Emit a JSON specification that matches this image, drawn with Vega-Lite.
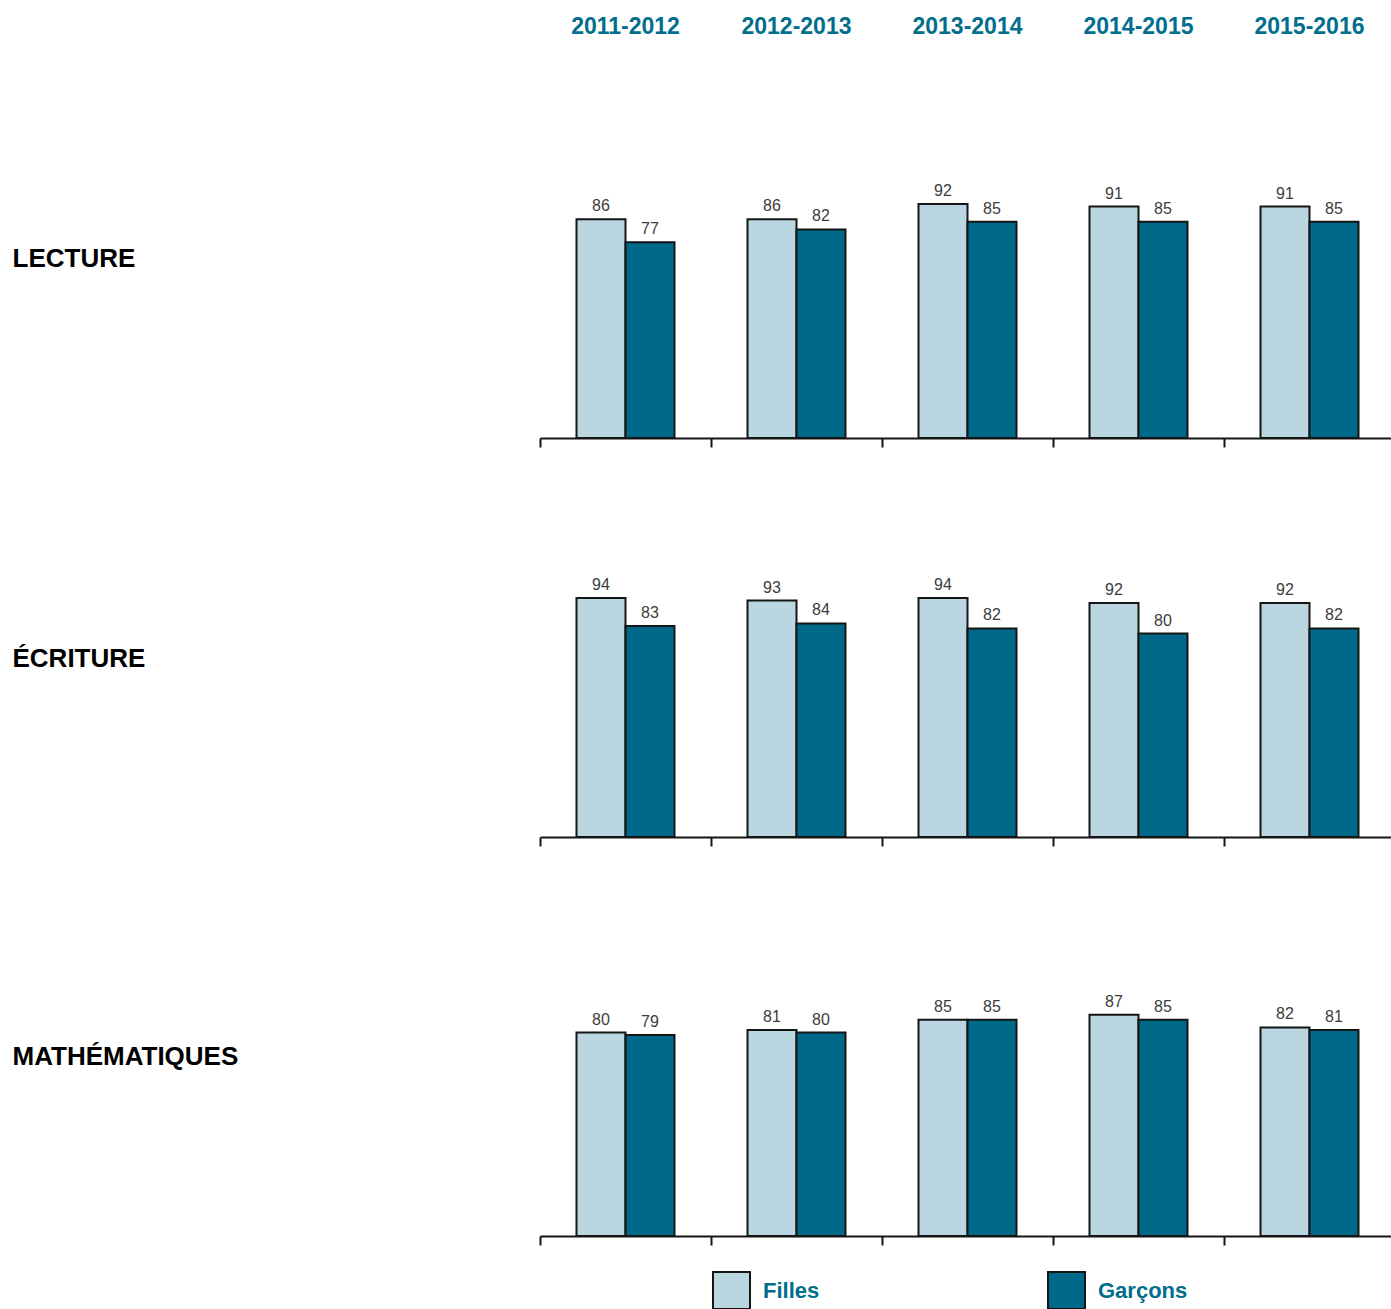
{
  "$schema": "https://vega.github.io/schema/vega-lite/v6.json",
  "padding": {"left": 12, "top": 15, "right": 0, "bottom": 0},
  "datasets": {
    "scores": [
      {"matiere": "LECTURE", "annee": "2011-2012", "sexe": "Filles", "valeur": 86},
      {"matiere": "LECTURE", "annee": "2011-2012", "sexe": "Garçons", "valeur": 77},
      {"matiere": "LECTURE", "annee": "2012-2013", "sexe": "Filles", "valeur": 86},
      {"matiere": "LECTURE", "annee": "2012-2013", "sexe": "Garçons", "valeur": 82},
      {"matiere": "LECTURE", "annee": "2013-2014", "sexe": "Filles", "valeur": 92},
      {"matiere": "LECTURE", "annee": "2013-2014", "sexe": "Garçons", "valeur": 85},
      {"matiere": "LECTURE", "annee": "2014-2015", "sexe": "Filles", "valeur": 91},
      {"matiere": "LECTURE", "annee": "2014-2015", "sexe": "Garçons", "valeur": 85},
      {"matiere": "LECTURE", "annee": "2015-2016", "sexe": "Filles", "valeur": 91},
      {"matiere": "LECTURE", "annee": "2015-2016", "sexe": "Garçons", "valeur": 85},
      {"matiere": "ÉCRITURE", "annee": "2011-2012", "sexe": "Filles", "valeur": 94},
      {"matiere": "ÉCRITURE", "annee": "2011-2012", "sexe": "Garçons", "valeur": 83},
      {"matiere": "ÉCRITURE", "annee": "2012-2013", "sexe": "Filles", "valeur": 93},
      {"matiere": "ÉCRITURE", "annee": "2012-2013", "sexe": "Garçons", "valeur": 84},
      {"matiere": "ÉCRITURE", "annee": "2013-2014", "sexe": "Filles", "valeur": 94},
      {"matiere": "ÉCRITURE", "annee": "2013-2014", "sexe": "Garçons", "valeur": 82},
      {"matiere": "ÉCRITURE", "annee": "2014-2015", "sexe": "Filles", "valeur": 92},
      {"matiere": "ÉCRITURE", "annee": "2014-2015", "sexe": "Garçons", "valeur": 80},
      {"matiere": "ÉCRITURE", "annee": "2015-2016", "sexe": "Filles", "valeur": 92},
      {"matiere": "ÉCRITURE", "annee": "2015-2016", "sexe": "Garçons", "valeur": 82},
      {"matiere": "MATHÉMATIQUES", "annee": "2011-2012", "sexe": "Filles", "valeur": 80},
      {"matiere": "MATHÉMATIQUES", "annee": "2011-2012", "sexe": "Garçons", "valeur": 79},
      {"matiere": "MATHÉMATIQUES", "annee": "2012-2013", "sexe": "Filles", "valeur": 81},
      {"matiere": "MATHÉMATIQUES", "annee": "2012-2013", "sexe": "Garçons", "valeur": 80},
      {"matiere": "MATHÉMATIQUES", "annee": "2013-2014", "sexe": "Filles", "valeur": 85},
      {"matiere": "MATHÉMATIQUES", "annee": "2013-2014", "sexe": "Garçons", "valeur": 85},
      {"matiere": "MATHÉMATIQUES", "annee": "2014-2015", "sexe": "Filles", "valeur": 87},
      {"matiere": "MATHÉMATIQUES", "annee": "2014-2015", "sexe": "Garçons", "valeur": 85},
      {"matiere": "MATHÉMATIQUES", "annee": "2015-2016", "sexe": "Filles", "valeur": 82},
      {"matiere": "MATHÉMATIQUES", "annee": "2015-2016", "sexe": "Garçons", "valeur": 81}
    ]
  },
  "bounds": "flush",
  "spacing": 132,
  "vconcat": [
    {
      "width": 855,
      "height": 24,
      "data": {"name": "scores"},
      "transform": [{"aggregate": [{"op": "count", "as": "n"}], "groupby": ["annee"]}],
      "mark": {"type": "text", "font": "Liberation Sans", "fontSize": 23, "fontWeight": "bold", "color": "#006e8c", "baseline": "middle"},
      "encoding": {
        "x": {"field": "annee", "type": "nominal", "axis": null, "scale": {"paddingInner": 0, "paddingOuter": 0}},
        "text": {"field": "annee", "type": "nominal"}
      }
    },
    {
      "width": 855,
      "height": 267,
      "data": {"name": "scores"},
      "transform": [{"filter": "datum.matiere === 'LECTURE'"}],
      "encoding": {
        "x": {"field": "annee", "type": "nominal", "scale": {"paddingInner": 0, "paddingOuter": 0}},
        "xOffset": {"field": "sexe", "type": "nominal", "scale": {"domain": ["Filles", "Garçons"], "paddingInner": 0, "paddingOuter": 0.745}},
        "y": {"field": "valeur", "type": "quantitative", "scale": {"domain": [0, 105], "nice": false}, "axis": {"title": "LECTURE", "titleY": 87}}
      },
      "layer": [
        {
          "mark": {"type": "bar", "stroke": "#151515", "strokeWidth": 2},
          "encoding": {"color": {"field": "sexe", "type": "nominal", "scale": {"domain": ["Filles", "Garçons"], "range": ["#b9d6e1", "#00698a"]}, "legend": {"title": null}}}
        },
        {
          "mark": {"type": "text", "font": "Liberation Sans", "fontSize": 16, "color": "#3c3c3c", "baseline": "alphabetic", "dy": -8},
          "encoding": {"text": {"field": "valeur", "type": "quantitative"}}
        }
      ]
    },
    {
      "width": 855,
      "height": 267,
      "data": {"name": "scores"},
      "transform": [{"filter": "datum.matiere === 'ÉCRITURE'"}],
      "encoding": {
        "x": {"field": "annee", "type": "nominal", "scale": {"paddingInner": 0, "paddingOuter": 0}},
        "xOffset": {"field": "sexe", "type": "nominal", "scale": {"domain": ["Filles", "Garçons"], "paddingInner": 0, "paddingOuter": 0.745}},
        "y": {"field": "valeur", "type": "quantitative", "scale": {"domain": [0, 105], "nice": false}, "axis": {"title": "ÉCRITURE", "titleY": 88}}
      },
      "layer": [
        {
          "mark": {"type": "bar", "stroke": "#151515", "strokeWidth": 2},
          "encoding": {"color": {"field": "sexe", "type": "nominal", "scale": {"domain": ["Filles", "Garçons"], "range": ["#b9d6e1", "#00698a"]}, "legend": {"title": null}}}
        },
        {
          "mark": {"type": "text", "font": "Liberation Sans", "fontSize": 16, "color": "#3c3c3c", "baseline": "alphabetic", "dy": -8},
          "encoding": {"text": {"field": "valeur", "type": "quantitative"}}
        }
      ]
    },
    {
      "width": 855,
      "height": 267,
      "data": {"name": "scores"},
      "transform": [{"filter": "datum.matiere === 'MATHÉMATIQUES'"}],
      "encoding": {
        "x": {"field": "annee", "type": "nominal", "scale": {"paddingInner": 0, "paddingOuter": 0}},
        "xOffset": {"field": "sexe", "type": "nominal", "scale": {"domain": ["Filles", "Garçons"], "paddingInner": 0, "paddingOuter": 0.745}},
        "y": {"field": "valeur", "type": "quantitative", "scale": {"domain": [0, 105], "nice": false}, "axis": {"title": "MATHÉMATIQUES", "titleY": 87}}
      },
      "layer": [
        {
          "mark": {"type": "bar", "stroke": "#151515", "strokeWidth": 2},
          "encoding": {"color": {"field": "sexe", "type": "nominal", "scale": {"domain": ["Filles", "Garçons"], "range": ["#b9d6e1", "#00698a"]}, "legend": {"title": null}}}
        },
        {
          "mark": {"type": "text", "font": "Liberation Sans", "fontSize": 16, "color": "#3c3c3c", "baseline": "alphabetic", "dy": -8},
          "encoding": {"text": {"field": "valeur", "type": "quantitative"}}
        }
      ]
    }
  ],
  "config": {
    "view": {"stroke": null},
    "font": "Liberation Sans",
    "axisX": {
      "labels": false,
      "title": null,
      "grid": false,
      "domain": true,
      "domainColor": "#151515",
      "domainWidth": 2,
      "ticks": true,
      "tickColor": "#151515",
      "tickWidth": 2,
      "tickSize": 9,
      "tickBand": "extent"
    },
    "axisY": {
      "domain": false,
      "ticks": false,
      "labels": false,
      "grid": false,
      "titleAngle": 0,
      "titleAlign": "left",
      "titleBaseline": "middle",
      "titleX": -528,
      "titleFont": "Liberation Sans",
      "titleFontSize": 26,
      "titleFontWeight": "bold",
      "titleColor": "#000000"
    },
    "legend": {
      "orient": "none",
      "legendX": 172,
      "legendY": 1256,
      "direction": "horizontal",
      "padding": 0,
      "symbolType": "square",
      "symbolSize": 1369,
      "symbolStrokeColor": "#151515",
      "symbolStrokeWidth": 2,
      "symbolOpacity": 1,
      "labelFont": "Liberation Sans",
      "labelFontSize": 22,
      "labelFontWeight": "bold",
      "labelColor": "#006e8c",
      "labelOffset": 12,
      "columnPadding": 224,
      "labelBaseline": "middle"
    }
  }
}
